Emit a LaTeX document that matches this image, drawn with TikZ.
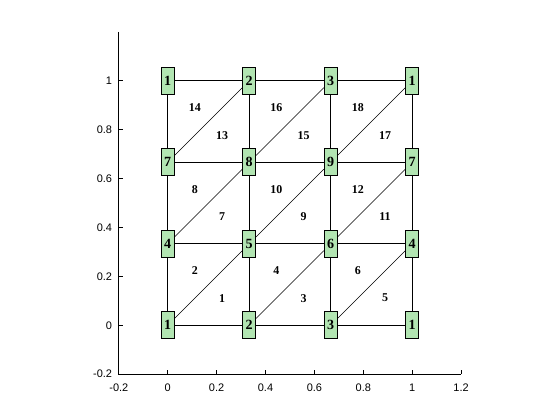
\documentclass[tikz,border=0pt]{standalone}
\usepackage{fontspec}
\setmainfont{Liberation Serif}
\setsansfont{Liberation Sans}
\usetikzlibrary{positioning}
\definecolor{MeshGreen}{rgb}{0.7,0.9,0.7}

\begin{document}
\begin{tikzpicture}[
      x=6.1125cm,y=6.1125cm,
      vert/.style={draw=black,fill=MeshGreen,line width=0.7pt,minimum width=0.3175cm,minimum height=0.6675cm,inner sep=0pt,font=\fontsize{10}{11}\selectfont\bfseries},
      elem/.style={inner sep=0pt,font=\fontsize{8.5}{9}\selectfont\bfseries},
      ticklab/.style={inner sep=0pt,font=\sffamily\fontsize{7.8}{9}\selectfont},
      meshline/.style={line width=0.7pt},
      diagline/.style={line width=0.3pt},
      axisline/.style={line width=0.7pt}
    ]
      \useasboundingbox (-0.686,-0.3873) rectangle (1.6045,1.3305);
      \draw[axisline] (-0.2,1.2) -- (-0.2,-0.2) -- (1.2,-0.2);
      \foreach \t [count=\c] in {-0.2,0,0.2,0.4,0.6,0.8,1,1.2} {
        \draw[axisline] (\t,-0.2) -- ++(0,0.0164);
        \node[ticklab] (xl\c) at (\t,-0.2548) {\t};
      }
      \foreach \t [count=\c] in {-0.2,0,0.2,0.4,0.6,0.8,1} {
        \draw[axisline] (-0.2,\t) -- ++(0.0164,0);
        \node[ticklab,anchor=east] (yl\c) at (-0.2266,\t) {\t};
      }
      \foreach \i in {0,...,3}
        \foreach \j in {0,...,3} {
          \pgfmathtruncatemacro\lab{3*mod(\j,3)+mod(\i,3)+1}
          \node[vert] (v\i\j) at (\i/3,\j/3) {\lab};
        }
      \foreach \i in {0,1,2}
        \foreach \j in {0,...,3} {
          \pgfmathtruncatemacro\k{\i+1}
          \draw[meshline] (v\i\j) -- (v\k\j);
          \draw[meshline] (v\j\i) -- (v\j\k);
        }
      \foreach \i in {0,1,2}
        \foreach \j in {0,1,2} {
          \pgfmathtruncatemacro\k{\i+1}
          \pgfmathtruncatemacro\l{\j+1}
          \pgfmathtruncatemacro\lo{6*\j+2*\i+1}
          \pgfmathtruncatemacro\up{6*\j+2*\i+2}
          \draw[diagline] (v\i\j) -- (v\k\l);
          \node[elem] (e\lo) at ({(\i+2/3)/3},{(\j+1/3)/3}) {\lo};
          \node[elem] (e\up) at ({(\i+1/3)/3},{(\j+2/3)/3}) {\up};
        }
    \end{tikzpicture}
\end{document}
